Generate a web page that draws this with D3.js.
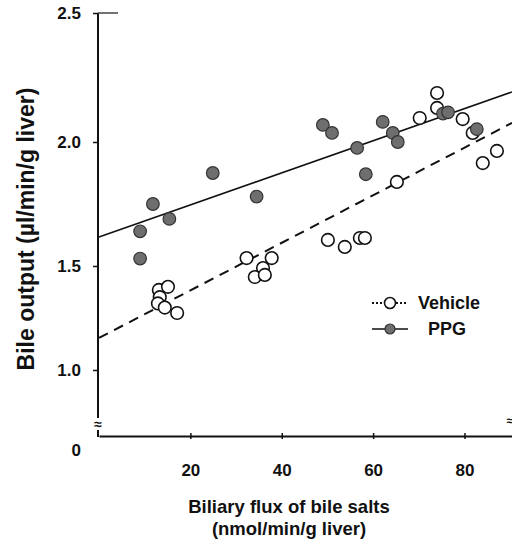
<!DOCTYPE html>
<html>
<head>
<meta charset="utf-8">
<script src="https://cdn.jsdelivr.net/npm/d3@7"></script>
<style>
  html, body { margin: 0; padding: 0; background: #fff; }
  svg { display: block; }
  text { font-family: "Liberation Sans", Arial, sans-serif; fill: #111; }
</style>
</head>
<body>
<script>
// ---- data ----
const xTicks = [20, 40, 60, 80];
const yTicks = [0, 1.0, 1.5, 2.0, 2.5];

const ppgX = [9.0, 9.0, 11.8, 15.4, 24.9, 34.5, 49.0, 51.0, 56.5, 58.4, 62.1, 64.3, 65.4, 75.3, 76.4, 82.7];
const ppgY = [1.64, 1.53, 1.75, 1.69, 1.875, 1.78, 2.066, 2.035, 1.976, 1.87, 2.078, 2.035, 2.0, 2.11, 2.115, 2.05];

const vehX = [13.1, 15.1, 13.3, 12.9, 14.4, 17.1, 32.3, 37.8, 35.9, 34.1, 36.3, 50.1, 53.8, 57.1, 58.2, 65.2, 70.2, 74.0, 74.0, 79.6, 81.8, 84.0, 87.1];
const vehY = [1.385, 1.40, 1.35, 1.32, 1.30, 1.274, 1.532, 1.532, 1.49, 1.447, 1.457, 1.605, 1.577, 1.613, 1.613, 1.839, 2.093, 2.19, 2.132, 2.089, 2.035, 1.915, 1.964];

// regression lines (endpoints in data units)
const ppgFitX = [0, 90.4];
const ppgFitY = [1.617, 2.194];
const vehFitX = [0, 90.4];
const vehFitY = [1.154, 2.074];

const seriesNames = ["Vehicle", "PPG"];

// ---- layout ----
const W = 512, H = 545;
const svg = d3.select("body").append("svg").attr("width", W).attr("height", H);
svg.append("rect").attr("width", W).attr("height", H).attr("fill", "#fff");

const x = d3.scaleLinear().domain([0, 90.4]).range([99, 512]);
// broken y axis: 0 sits below the break
const y = d3.scaleLinear().domain([0, 1.0, 1.5, 2.0, 2.5]).range([436, 370, 266, 142, 13]);

// axes
const yAxis = d3.axisLeft(y).tickValues(yTicks.filter(v => v > 0))
  .tickSize(5).tickPadding(12).tickFormat(d3.format(".1f"));
const gy = svg.append("g").attr("transform", "translate(98,0)").call(yAxis);
gy.select(".domain").remove();
gy.selectAll(".tick line").attr("stroke", "#111").attr("stroke-width", 1.5);
gy.selectAll(".tick text").style("font-size", "17px").style("font-weight", "bold").attr("fill", "#222");

// zero label
svg.append("text").attr("x", 98 - 17).attr("y", y(0) + 20).attr("text-anchor", "end")
  .style("font-size", "17px").style("font-weight", "bold").attr("fill", "#222").text("0");

// y axis line with break
svg.append("line").attr("x1", 98).attr("x2", 98).attr("y1", y(2.5)).attr("y2", 418)
  .attr("stroke", "#111").attr("stroke-width", 2);
svg.append("line").attr("x1", 98).attr("x2", 98).attr("y1", 430).attr("y2", y(0) + 1)
  .attr("stroke", "#111").attr("stroke-width", 2);
svg.append("line").attr("x1", 98).attr("x2", 118).attr("y1", y(2.5)).attr("y2", y(2.5))
  .attr("stroke", "#444").attr("stroke-width", 1.5);
svg.append("text").attr("x", 98).attr("y", 429).attr("text-anchor", "middle")
  .style("font-size", "14px").style("font-weight", "bold").text("≈");
svg.append("text").attr("x", 510).attr("y", 425).attr("text-anchor", "middle")
  .style("font-size", "12px").style("font-weight", "bold").text("≈");

// x axis
const xAxis = d3.axisBottom(x).tickValues(xTicks).tickSize(0).tickPadding(28).tickFormat(d3.format("d"));
const gx = svg.append("g").attr("transform", `translate(0,${y(0)})`).call(xAxis);
gx.select(".domain").attr("stroke", "#111").attr("stroke-width", 2);
gx.selectAll(".tick text").style("font-size", "17px").style("font-weight", "bold").attr("fill", "#222");
gx.selectAll(".tick").append("line").attr("y1", -3).attr("y2", 3).attr("stroke", "#111").attr("stroke-width", 1.5);

// axis titles
svg.append("text").attr("x", 289).attr("y", 513).attr("text-anchor", "middle")
  .style("font-size", "18.5px").style("font-weight", "bold").text("Biliary flux of bile salts");
svg.append("text").attr("x", 289).attr("y", 535).attr("text-anchor", "middle")
  .style("font-size", "18.5px").style("font-weight", "bold").text("(nmol/min/g liver)");
svg.append("text").attr("transform", "translate(34,229) rotate(-90)").attr("text-anchor", "middle")
  .style("font-size", "23px").style("font-weight", "bold").text("Bile output (µl/min/g liver)");

// regression lines
const line = d3.line().x(d => x(d[0])).y(d => y(d[1]));
svg.append("path").datum(d3.zip(ppgFitX, ppgFitY)).attr("d", line)
  .attr("fill", "none").attr("stroke", "#111").attr("stroke-width", 1.6);
svg.append("path").datum(d3.zip(vehFitX, vehFitY)).attr("d", line)
  .attr("fill", "none").attr("stroke", "#111").attr("stroke-width", 2).attr("stroke-dasharray", "10,7");

// points
svg.append("g").selectAll("circle").data(d3.zip(vehX, vehY)).join("circle")
  .attr("cx", d => x(d[0])).attr("cy", d => y(d[1])).attr("r", 6.3)
  .attr("fill", "#fff").attr("stroke", "#111").attr("stroke-width", 1.6);
svg.append("g").selectAll("circle").data(d3.zip(ppgX, ppgY)).join("circle")
  .attr("cx", d => x(d[0])).attr("cy", d => y(d[1])).attr("r", 6.3)
  .attr("fill", "#6e6e6e").attr("stroke", "#333").attr("stroke-width", 1.2);

// legend
const leg = svg.append("g");
leg.append("line").attr("x1", 372).attr("x2", 408).attr("y1", 303).attr("y2", 303)
  .attr("stroke", "#111").attr("stroke-width", 2).attr("stroke-dasharray", "2,2");
leg.append("circle").attr("cx", 390).attr("cy", 303).attr("r", 5.5)
  .attr("fill", "#fff").attr("stroke", "#111").attr("stroke-width", 1.6);
leg.append("text").attr("x", 418).attr("y", 309).style("font-size", "18px").style("font-weight", "bold").text(seriesNames[0]);
leg.append("line").attr("x1", 372).attr("x2", 408).attr("y1", 329).attr("y2", 329)
  .attr("stroke", "#111").attr("stroke-width", 1.6);
leg.append("circle").attr("cx", 390).attr("cy", 329).attr("r", 5)
  .attr("fill", "#6e6e6e").attr("stroke", "#333").attr("stroke-width", 1.2);
leg.append("text").attr("x", 428).attr("y", 335).style("font-size", "18px").style("font-weight", "bold").text(seriesNames[1]);
</script>
</body>
</html>
